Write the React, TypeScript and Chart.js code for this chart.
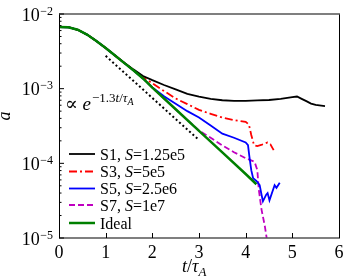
import React, { useEffect, useRef } from 'react';
import { Chart, registerables } from 'chart.js';

Chart.register(...registerables);

// ---- data ----
const IDEAL_T = [0, 0.2, 0.4, 0.6, 0.8, 1.0, 1.2, 1.4, 1.6, 1.8, 2.0, 2.5, 3.0, 3.5, 4.0, 4.23];
const IDEAL_A = [6.7e-3, 6.65e-3, 6.15e-3, 5.3e-3, 4.35e-3, 3.5e-3, 2.78e-3, 2.2e-3, 1.75e-3, 1.37e-3, 1.035e-3, 5.3e-4, 2.72e-4, 1.4e-4, 7.2e-5, 5.25e-5];

const S1_T = [0, 0.2, 0.4, 0.6, 0.8, 1.0, 1.2, 1.4, 1.6, 1.8, 2.0, 2.25, 2.5, 2.75, 3.0, 3.25, 3.5, 3.75, 4.0, 4.25, 4.5, 4.75, 5.0, 5.1, 5.2, 5.3, 5.4, 5.5, 5.7];
const S1_A = [6.7e-3, 6.65e-3, 6.15e-3, 5.3e-3, 4.35e-3, 3.5e-3, 2.79e-3, 2.22e-3, 1.8e-3, 1.48e-3, 1.3e-3, 1.12e-3, 9.8e-4, 8.5e-4, 7.8e-4, 7.3e-4, 7.0e-4, 6.85e-4, 6.85e-4, 6.95e-4, 7.05e-4, 7.3e-4, 7.7e-4, 7.85e-4, 7.3e-4, 6.8e-4, 6.3e-4, 6.05e-4, 5.85e-4];

const S3_T = [0, 0.2, 0.4, 0.6, 0.8, 1.0, 1.2, 1.4, 1.6, 1.8, 2.0, 2.25, 2.5, 2.75, 3.0, 3.25, 3.5, 3.75, 4.0, 4.07, 4.12, 4.18, 4.25, 4.35, 4.47, 4.53, 4.6];
const S3_A = [6.7e-3, 6.65e-3, 6.15e-3, 5.3e-3, 4.35e-3, 3.5e-3, 2.78e-3, 2.21e-3, 1.77e-3, 1.42e-3, 1.18e-3, 9.3e-4, 7.4e-4, 6.2e-4, 5.2e-4, 4.6e-4, 4.1e-4, 3.8e-4, 3.6e-4, 3.3e-4, 2.4e-4, 1.75e-4, 1.7e-4, 1.78e-4, 1.9e-4, 1.8e-4, 1.5e-4];

const S5_T = [0, 0.2, 0.4, 0.6, 0.8, 1.0, 1.2, 1.4, 1.6, 1.8, 2.0, 2.25, 2.5, 2.75, 3.0, 3.25, 3.5, 3.75, 4.0, 4.05, 4.08, 4.12, 4.16, 4.23, 4.3, 4.34, 4.37, 4.44, 4.47, 4.51, 4.62, 4.66, 4.73];
const S5_A = [6.7e-3, 6.65e-3, 6.15e-3, 5.3e-3, 4.35e-3, 3.5e-3, 2.78e-3, 2.2e-3, 1.75e-3, 1.37e-3, 1.04e-3, 7.9e-4, 6.3e-4, 5.0e-4, 4.1e-4, 3.2e-4, 2.5e-4, 2.2e-4, 1.9e-4, 1.75e-4, 1.23e-4, 8.1e-5, 6.3e-5, 5.8e-5, 5.1e-5, 3.8e-5, 3.1e-5, 3.8e-5, 4.0e-5, 3.2e-5, 5.1e-5, 4.7e-5, 5.5e-5];

const S7_T = [0, 0.2, 0.4, 0.6, 0.8, 1.0, 1.2, 1.4, 1.6, 1.8, 2.0, 2.5, 3.0, 3.25, 3.5, 3.75, 4.0, 4.19, 4.25, 4.28, 4.34, 4.41, 4.45];
const S7_A = [6.7e-3, 6.65e-3, 6.15e-3, 5.3e-3, 4.35e-3, 3.5e-3, 2.78e-3, 2.2e-3, 1.75e-3, 1.37e-3, 1.035e-3, 5.3e-4, 2.75e-4, 2.2e-4, 1.74e-4, 1.41e-4, 1.17e-4, 1.05e-4, 8.1e-5, 4.5e-5, 2.4e-5, 1.45e-5, 1.0e-5];

const FIT_T = [1.0, 3.0];
const FIT_A = [2.75e-3, 2.05e-4];

const X_TICKS = [0, 1, 2, 3, 4, 5, 6];
const Y_EXPONENTS = [-2, -3, -4, -5];

const LEGEND_NAMES = ['S1', 'S3', 'S5', 'S7', 'Ideal'];
const LEGEND_S = ['1.25e5', '5e5', '2.5e6', '1e7', ''];

const COLORS = ['#000000', '#ff0000', '#0000ff', '#c000c0', '#008000'];
const DASHES: number[][] = [[], [8, 3, 2, 3], [], [6, 3], []];
const WIDTHS = [1.8, 1.8, 1.8, 1.8, 2.5];

const SERIF = '"Liberation Serif", "DejaVu Serif", serif';

function pts(t: number[], a: number[]) {
  return t.map((x, i) => ({ x, y: a[i] }));
}

const decorPlugin = {
  id: 'decor',
  afterDraw(chart: any) {
    const ctx: CanvasRenderingContext2D = chart.ctx;
    const ca = chart.chartArea;
    const xs = chart.scales.x;
    const ys = chart.scales.y;
    ctx.save();
    // frame
    ctx.lineWidth = 1;
    ctx.setLineDash([]);
    ctx.strokeStyle = '#000';
    ctx.beginPath();
    ctx.moveTo(ca.left + 0.5, ca.top);
    ctx.lineTo(ca.left + 0.5, ca.bottom);
    ctx.moveTo(ca.right + 0.5, ca.top);
    ctx.lineTo(ca.right + 0.5, ca.bottom);
    ctx.stroke();
    ctx.strokeStyle = '#555';
    ctx.lineWidth = 1.4;
    ctx.beginPath();
    ctx.moveTo(ca.left, ca.top);
    ctx.lineTo(ca.right + 1, ca.top);
    ctx.moveTo(ca.left, ca.bottom);
    ctx.lineTo(ca.right + 1, ca.bottom);
    ctx.stroke();

    ctx.strokeStyle = '#000';
    ctx.lineWidth = 1;
    // x ticks
    ctx.beginPath();
    X_TICKS.forEach((v) => {
      const px = Math.round(xs.getPixelForValue(v)) + 0.5;
      ctx.moveTo(px, ca.bottom);
      ctx.lineTo(px, ca.bottom - 5);
    });
    // y ticks
    Y_EXPONENTS.forEach((e) => {
      const py = ys.getPixelForValue(Math.pow(10, e));
      ctx.moveTo(ca.left, py);
      ctx.lineTo(ca.left + 5, py);
      for (let m = 2; m <= 9; m++) {
        const v = m * Math.pow(10, e);
        if (v > 1e-2) continue;
        const p = ys.getPixelForValue(v);
        ctx.moveTo(ca.left, p);
        ctx.lineTo(ca.left + 2.5, p);
      }
    });
    ctx.stroke();

    ctx.fillStyle = '#000';
    // x tick labels
    ctx.font = `18px ${SERIF}`;
    ctx.textAlign = 'center';
    ctx.textBaseline = 'alphabetic';
    X_TICKS.forEach((v) => {
      ctx.fillText(String(v), xs.getPixelForValue(v), 258);
    });

    // y tick labels
    Y_EXPONENTS.forEach((e) => {
      const py = ys.getPixelForValue(Math.pow(10, e));
      const exp = '\u2212' + String(-e);
      ctx.font = `12px ${SERIF}`;
      ctx.textAlign = 'right';
      const ew = ctx.measureText(exp).width;
      ctx.fillText(exp, 53, py + 0.5);
      ctx.font = `18px ${SERIF}`;
      ctx.fillText('10', 53 - ew - 0.5, py + 6.5);
    });

    // axis titles
    ctx.textAlign = 'left';
    let x = 182;
    ctx.font = `italic 18px ${SERIF}`;
    ctx.fillText('t', x, 272);
    x += ctx.measureText('t').width;
    ctx.font = `18px ${SERIF}`;
    ctx.fillText('/', x, 272);
    x += ctx.measureText('/').width;
    ctx.font = `italic 18px ${SERIF}`;
    ctx.fillText('\u03c4', x, 272);
    x += ctx.measureText('\u03c4').width;
    ctx.font = `italic 13px ${SERIF}`;
    ctx.fillText('A', x, 276);

    ctx.save();
    ctx.translate(10, 116);
    ctx.rotate(-Math.PI / 2);
    ctx.textAlign = 'center';
    ctx.font = `italic 18px ${SERIF}`;
    ctx.fillText('a', 0, 0);
    ctx.restore();

    // annotation
    x = 65;
    ctx.textAlign = 'left';
    ctx.font = `19px ${SERIF}`;
    ctx.fillText('\u221d', x, 110);
    x += ctx.measureText('\u221d ').width;
    ctx.font = `italic 19px ${SERIF}`;
    ctx.fillText('e', x, 110);
    x += ctx.measureText('e').width + 1;
    ctx.font = `13px ${SERIF}`;
    ctx.fillText('\u22121.3', x, 102);
    x += ctx.measureText('\u22121.3').width;
    ctx.font = `italic 13px ${SERIF}`;
    ctx.fillText('t', x, 102);
    x += ctx.measureText('t').width;
    ctx.font = `13px ${SERIF}`;
    ctx.fillText('/', x, 102);
    x += ctx.measureText('/').width;
    ctx.font = `italic 13px ${SERIF}`;
    ctx.fillText('\u03c4', x, 102);
    x += ctx.measureText('\u03c4').width;
    ctx.font = `italic 10px ${SERIF}`;
    ctx.fillText('A', x, 105);

    // legend
    const rowY = [154, 171.5, 188.5, 205, 223];
    LEGEND_NAMES.forEach((name, i) => {
      const y = rowY[i];
      ctx.strokeStyle = COLORS[i];
      ctx.lineWidth = WIDTHS[i];
      ctx.setLineDash(DASHES[i]);
      ctx.beginPath();
      ctx.moveTo(69, y);
      ctx.lineTo(95, y);
      ctx.stroke();
      ctx.setLineDash([]);
      let lx = 100;
      const by = y + 5.5;
      ctx.font = `16px ${SERIF}`;
      if (LEGEND_S[i]) {
        const p1 = name + ', ';
        ctx.fillText(p1, lx, by);
        lx += ctx.measureText(p1).width;
        ctx.font = `italic 16px ${SERIF}`;
        ctx.fillText('S', lx, by);
        lx += ctx.measureText('S').width;
        ctx.font = `16px ${SERIF}`;
        ctx.fillText('=' + LEGEND_S[i], lx, by);
      } else {
        ctx.fillText(name, lx, by);
      }
    });
    ctx.restore();
  },
};

export default function App() {
  const ref = useRef<HTMLCanvasElement | null>(null);
  useEffect(() => {
    if (!ref.current) return;
    const series = [
      { t: S1_T, a: S1_A },
      { t: S3_T, a: S3_A },
      { t: S5_T, a: S5_A },
      { t: S7_T, a: S7_A },
      { t: IDEAL_T, a: IDEAL_A },
    ];
    const datasets: any[] = series.map((s, i) => ({
      label: LEGEND_NAMES[i],
      data: pts(s.t, s.a),
      borderColor: COLORS[i],
      backgroundColor: COLORS[i],
      borderWidth: WIDTHS[i],
      borderDash: DASHES[i],
      pointRadius: 0,
      tension: 0,
      fill: false,
      order: i === 4 ? 0 : i + 1,
    }));
    datasets.push({
      label: 'fit',
      data: pts(FIT_T, FIT_A),
      borderColor: '#000',
      borderWidth: 2,
      borderDash: [2, 2.5],
      pointRadius: 0,
      fill: false,
      order: 6,
    });
    const chart = new Chart(ref.current, {
      type: 'line',
      data: { datasets },
      options: {
        animation: false,
        responsive: false,
        devicePixelRatio: 1,
        parsing: false as any,
        layout: { padding: { left: 59, right: 11, top: 14, bottom: 42 } },
        scales: {
          x: { type: 'linear', min: 0, max: 6, display: false },
          y: { type: 'logarithmic', min: 1e-5, max: 1e-2, display: false },
        },
        plugins: { legend: { display: false }, tooltip: { enabled: false } },
      },
      plugins: [decorPlugin],
    });
    return () => chart.destroy();
  }, []);
  return (
    <div style={{ position: 'absolute', left: 0, top: 0, width: 350, height: 280, background: '#fff' }}>
      <canvas ref={ref} width={350} height={280} />
    </div>
  );
}
